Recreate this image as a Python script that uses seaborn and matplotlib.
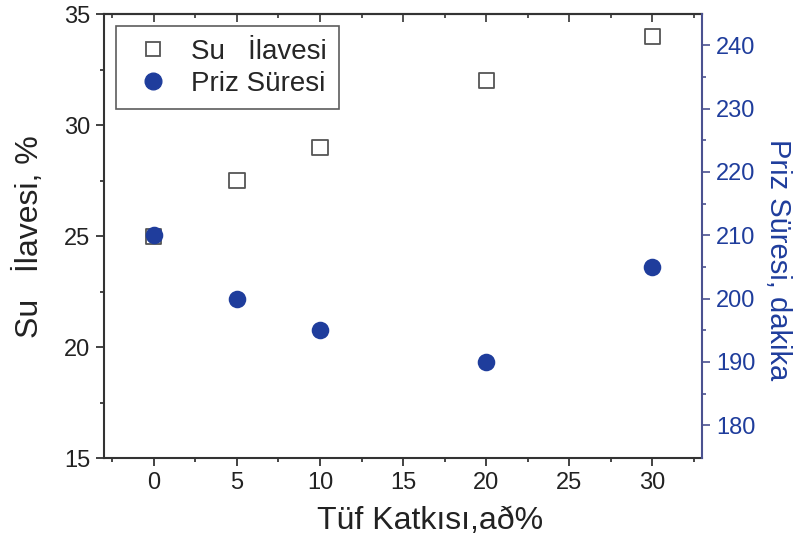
import pandas as pd
import seaborn as sns
import matplotlib.pyplot as plt
from matplotlib.lines import Line2D

# veriler
tuf_katkisi = [0, 5, 10, 20, 30]
su_ilavesi = [25, 27.5, 29, 32, 34]
priz_suresi = [210, 200, 195, 190, 205]

df = pd.DataFrame({'tuf': tuf_katkisi, 'su': su_ilavesi, 'priz': priz_suresi})

sns.set_style('ticks')
plt.rcParams['font.family'] = ['Liberation Sans', 'DejaVu Sans']

blue = '#1f3d9c'
axis_blue = '#4b5290'

fig = plt.figure(figsize=(7.96, 5.46), dpi=100)
ax = fig.add_axes([0.1307, 0.161, 0.7513, 0.813])
ax2 = ax.twinx()

sns.scatterplot(data=df, x='tuf', y='su', ax=ax, marker='s', s=120,
                facecolor='none', edgecolor='#555555', linewidth=1.3, zorder=2)
sns.scatterplot(data=df, x='tuf', y='priz', ax=ax2, marker='o', s=160,
                color=blue, edgecolor=blue, linewidth=0, zorder=3)

ax.set_xlim(-3, 33)
ax.set_ylim(15, 35)
ax2.set_ylim(174.8, 244.9)

ax.set_xticks([0, 5, 10, 15, 20, 25, 30])
ax.set_xticks([-2.5, 2.5, 7.5, 12.5, 17.5, 22.5, 27.5, 32.5], minor=True)
ax.set_yticks([15, 20, 25, 30, 35])
ax.set_yticks([17.5, 22.5, 27.5, 32.5], minor=True)
ax2.set_yticks([180, 190, 200, 210, 220, 230, 240])
ax2.set_yticks([185, 195, 205, 215, 225, 235], minor=True)

ax.tick_params(axis='both', which='major', direction='out', length=6, width=1.2,
               labelsize=17, colors='#222222', pad=4)
ax.tick_params(axis='both', which='minor', direction='out', length=3, width=1.2)
ax2.tick_params(axis='y', which='major', direction='out', length=6, width=1.2,
                labelsize=17, colors=axis_blue, labelcolor=blue, pad=4)
ax2.tick_params(axis='y', which='minor', direction='out', length=3, width=1.2,
                colors=axis_blue)

# ust eksen: iceri dogru tikler
top = ax.secondary_xaxis('top')
top.set_xticks([0, 5, 10, 15, 20, 25, 30])
top.set_xticks([-2.5, 2.5, 7.5, 12.5, 17.5, 22.5, 27.5, 32.5], minor=True)
top.tick_params(axis='x', which='major', direction='in', length=6, width=1.2,
                labeltop=False, colors='#333333')
top.tick_params(axis='x', which='minor', direction='in', length=3, width=1.2,
                colors='#333333')
top.spines['top'].set_linewidth(1.5)
top.spines['top'].set_color('#333333')

for side in ['left', 'bottom', 'top']:
    ax.spines[side].set_linewidth(1.5)
    ax.spines[side].set_color('#333333')
ax.spines['right'].set_visible(False)
for side in ['left', 'bottom', 'top']:
    ax2.spines[side].set_visible(False)
ax2.spines['right'].set_visible(True)
ax2.spines['right'].set_color(axis_blue)
ax2.spines['right'].set_linewidth(1.5)

ax.set_xlabel('Tüf Katkısı,að%', fontsize=23, color='#222222')
ax.xaxis.set_label_coords(0.545, -0.108)
ax.set_ylabel('Su   İlavesi, %', fontsize=23, color='#222222', va='center')
ax.yaxis.set_label_coords(-0.125, 0.5)
ax2.set_ylabel('Priz Süresi, dakika', fontsize=21, color=blue, rotation=270,
               va='center')
ax2.yaxis.set_label_coords(1.127, 0.447)

handles = [
    Line2D([], [], marker='s', linestyle='none', markersize=10,
           markerfacecolor='none', markeredgecolor='#555555', markeredgewidth=1.3),
    Line2D([], [], marker='o', linestyle='none', markersize=12,
           markerfacecolor=blue, markeredgecolor=blue),
]
leg = ax.legend(handles, ['Su   İlavesi', 'Priz Süresi'], loc='upper left',
                bbox_to_anchor=(0.02, 0.973), borderaxespad=0, fontsize=20,
                frameon=True, fancybox=False, edgecolor='#333333',
                handletextpad=0.45, borderpad=0.45, labelspacing=0.22,
                handlelength=1.8)
leg.get_frame().set_linewidth(1.2)

fig.savefig('out.png', dpi=100)
